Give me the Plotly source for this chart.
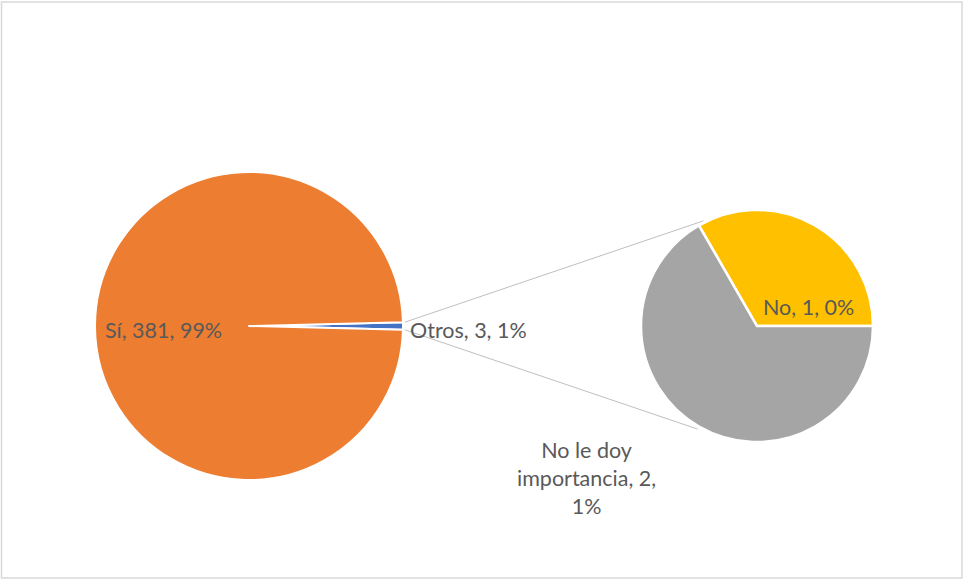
import math
import plotly.graph_objects as go

# Survey answers: one large group, the rest broken out into a secondary pie
categories = ["Sí", "No le doy importancia", "No"]
counts = [381, 2, 1]
group_label = "Otros"

colors = {"Sí": "#ED7D31", "Otros": "#4472C4",
          "No le doy importancia": "#A5A5A5", "No": "#FFC000"}

total = sum(counts)
otros_value = sum(counts[1:])


def pct(v):
    return f"{round(v / total * 100)}%"


def label_text(name, v):
    return f"{name}, {v}, {pct(v)}"


# Canvas geometry (pixels)
W, H = 964, 582
main_c, main_r = (249, 326), 154
sub_c, sub_r = (757, 326), 116


def to_paper(x, y):
    return x / W, 1 - y / H


def domain(c, r):
    x0, y0 = to_paper(c[0] - r, c[1] + r)
    x1, y1 = to_paper(c[0] + r, c[1] - r)
    return dict(x=[x0, x1], y=[y0, y1])


def on_circle(c, r, deg):
    a = math.radians(deg)
    return c[0] + r * math.cos(a), c[1] - r * math.sin(a)


fig = go.Figure()

# Primary pie: "Otros" slice centred on 3 o'clock
main_labels = [group_label, categories[0]]
main_values = [otros_value, counts[0]]
otros_deg = 360 * otros_value / total
fig.add_trace(go.Pie(
    labels=main_labels, values=main_values, sort=False,
    direction="clockwise", rotation=90 - otros_deg / 2,
    marker=dict(colors=[colors[l] for l in main_labels],
                line=dict(color="white", width=2)),
    textinfo="none", hoverinfo="label+value", showlegend=False,
    domain=domain(main_c, main_r),
))

# Secondary pie: breakdown of "Otros"
sub_labels = [categories[2], categories[1]]
sub_values = [counts[2], counts[1]]
first_deg = 360 * sub_values[0] / otros_value
fig.add_trace(go.Pie(
    labels=sub_labels, values=sub_values, sort=False,
    direction="clockwise", rotation=90 - first_deg,
    marker=dict(colors=[colors[l] for l in sub_labels],
                line=dict(color="white", width=2.5)),
    textinfo="none", hoverinfo="label+value", showlegend=False,
    domain=domain(sub_c, sub_r),
))

# Connector lines between the "Otros" slice and the secondary pie
half = otros_deg / 2
starts = [on_circle(main_c, main_r + 2, half), on_circle(main_c, main_r + 2, -half)]
ends = [on_circle(sub_c, sub_r + 2, 117), on_circle(sub_c, sub_r + 3, 240)]
shapes = []
for (sx, sy), (ex, ey) in zip(starts, ends):
    x0, y0 = to_paper(sx, sy)
    x1, y1 = to_paper(ex, ey)
    shapes.append(dict(type="line", xref="paper", yref="paper",
                       x0=x0, y0=y0, x1=x1, y1=y1,
                       line=dict(color="#BFBFBF", width=1)))

# Chart area border
bx0, by0 = to_paper(1.5, 578)
bx1, by1 = to_paper(962, 2)
shapes.append(dict(type="rect", xref="paper", yref="paper",
                   x0=bx0, y0=by0, x1=bx1, y1=by1,
                   line=dict(color="#D9D9D9", width=1.5)))

font = dict(family="Lato, Open Sans, sans-serif", size=21.5, color="#595959")


def note(text, x, y, xanchor="center"):
    px, py = to_paper(x, y)
    return dict(text=text, x=px, y=py, xref="paper", yref="paper",
                xanchor=xanchor, yanchor="middle", showarrow=False,
                font=font, align="center")


annotations = [
    note(label_text(categories[0], counts[0]), 163, 330),
    note(label_text(group_label, otros_value), 408, 330, "left"),
    note(label_text(categories[2], counts[2]), 808, 307),
    note(f"No le doy<br>importancia, {counts[1]},<br>{pct(counts[1])}", 586, 478),
]

fig.update_layout(
    width=W, height=H,
    margin=dict(l=0, r=0, t=0, b=0),
    paper_bgcolor="white", plot_bgcolor="white",
    shapes=shapes, annotations=annotations,
)

fig.write_html("out.html")
